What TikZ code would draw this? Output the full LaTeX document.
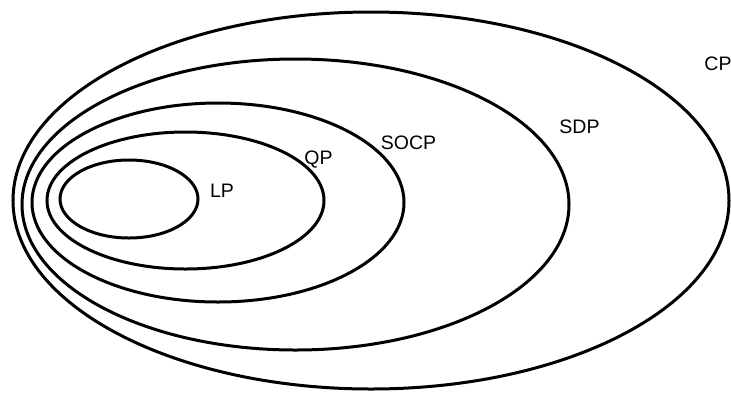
\documentclass[tikz,border=0pt]{standalone}
\usepackage{fontspec}
\setmainfont{Liberation Sans}
\usetikzlibrary{shapes.geometric}
\begin{document}
\begin{tikzpicture}[x=1pt,y=-1pt,
  setell/.style={draw=black, line width=3pt, ellipse, inner sep=0pt, outer sep=0pt},
  setlabel/.style={inner sep=0pt, font=\fontsize{19.5}{22}\selectfont}]
\useasboundingbox (0,0) rectangle (731,392);
\node[setell, minimum width=716pt, minimum height=377pt] (cp) at (371,200.5) {};
\node[setell, minimum width=547pt, minimum height=291pt] (sdp) at (295.5,204.5) {};
\node[setell, minimum width=372pt, minimum height=199pt] (socp) at (218,202.5) {};
\node[setell, minimum width=277pt, minimum height=137pt] (qp) at (185.5,200.5) {};
\node[setell, minimum width=138pt, minimum height=78pt] (lp) at (129,199) {};
\node[setlabel] (cpl) at (718,63.5) {CP};
\node[setlabel] (sdpl) at (579.5,126.5) {SDP};
\node[setlabel] (socpl) at (408.5,142.5) {SOCP};
\node[setlabel] (qpl) at (318.5,159.5) {QP};
\node[setlabel] (lpl) at (222,190.5) {LP};
\end{tikzpicture}
\end{document}
